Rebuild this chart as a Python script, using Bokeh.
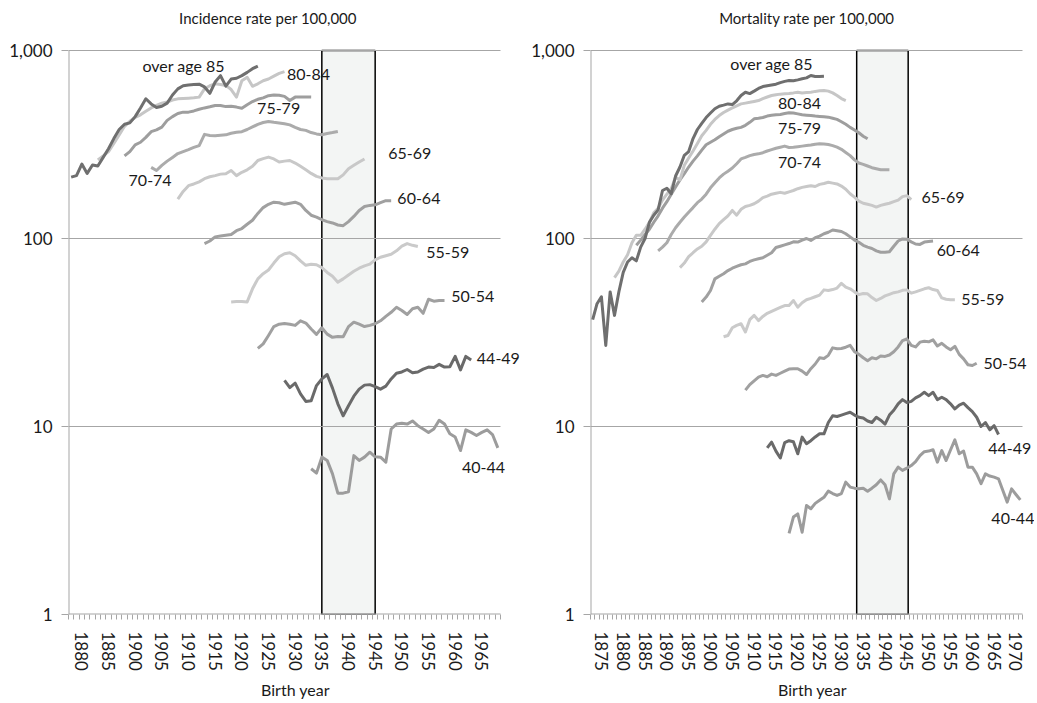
from bokeh.plotting import figure
from bokeh.models import Range1d, FixedTicker, NumeralTickFormatter, BoxAnnotation, Label
from bokeh.layouts import row
from bokeh.embed import file_html
from bokeh.resources import INLINE

FONT = "Lato"
TEXT = "#1a1a1a"
AXIS_GRAY = "#a6a6a6"

AGE_GROUPS = ["over age 85", "80-84", "75-79", "70-74", "65-69",
              "60-64", "55-59", "50-54", "44-49", "40-44"]
COLORS = ["#6f6f6f", "#c6c6c6", "#9e9e9e", "#ababab", "#c8c8c8",
          "#a0a0a0", "#cacaca", "#a0a0a0", "#6a6a6a", "#9c9c9c"]

# ---------------- Incidence (left) ----------------
# x positions on the category axis (first category = 1878); the axis prints its own labels
inc_tick_pos = [1880, 1885, 1890, 1895, 1900, 1905, 1910, 1915,
                1920, 1925, 1930, 1935, 1940, 1945, 1950, 1955]
inc_tick_labels = ["1880", "1885", "1900", "1905", "1910", "1915", "1920", "1925",
                   "1930", "1935", "1940", "1945", "1950", "1955", "1960", "1965"]
inc_start = [1878, 1883, 1888, 1893, 1898, 1903, 1908, 1913, 1918, 1923]
inc_over85 = [212, 216, 249, 222, 246, 243, 270, 300, 340, 380, 405, 412, 445, 495, 554, 520,
              498, 505, 525, 580, 625, 650, 656, 659, 662, 640, 592, 680, 735, 646, 705, 712,
              735, 765, 800, 826]
inc_80_84 = [262, 275, 290, 320, 355, 395, 420, 440, 455, 475, 495, 510, 525, 532, 545, 553,
             556, 558, 560, 565, 625, 650, 665, 660, 652, 620, 565, 690, 720, 645, 665, 690,
             705, 730, 755, 772]
inc_75_79 = [275, 290, 315, 325, 345, 370, 378, 391, 425, 445, 462, 470, 470, 477, 487, 495,
             502, 510, 510, 503, 505, 500, 493, 515, 535, 550, 560, 575, 580, 578, 570, 542,
             565, 565, 566, 565]
inc_70_74 = [239, 230, 245, 258, 270, 283, 290, 297, 305, 312, 358, 353, 352, 354, 356, 363,
             367, 370, 380, 392, 405, 414, 419, 415, 412, 408, 402, 390, 380, 376, 366, 360,
             356, 362, 366, 371]
inc_65_69 = [162, 178, 191, 195, 200, 208, 213, 216, 220, 221, 230, 216, 225, 232, 242, 260,
             266, 271, 265, 255, 258, 260, 252, 242, 232, 222, 214, 210, 208, 208, 208, 218,
             235, 245, 255, 265]
inc_60_64 = [94, 97, 102, 103, 104, 105, 110, 113, 119, 125, 136, 146, 152, 156, 155, 152,
             154, 156, 152, 141, 133, 130, 126, 123, 121, 118, 117, 123, 131, 141, 148, 150,
             151, 155, 159, 159]
inc_55_59 = [46, 46.2, 46.2, 46, 54, 61, 65, 68, 74, 80, 83, 84, 81, 76, 72, 73, 72.5, 70,
             66, 63, 58.6, 61, 64, 67, 69.5, 71.5, 73, 77, 79.5, 81, 82.5, 86, 91, 94, 92, 90.6]
inc_50_54 = [26, 27.5, 30.5, 34, 35, 35.3, 35, 34.5, 36.5, 35.5, 33, 30.9, 33.5, 31, 29.8,
             30.1, 30, 34, 35.9, 35, 34, 34.5, 35.2, 36.5, 38.5, 40.5, 43.1, 41.4, 39.4, 42.3,
             43.1, 40, 47.5, 46.4, 46.8, 46.8]
inc_44_49 = [17.6, 16.1, 17, 14.9, 13.6, 13.7, 16.5, 17.9, 18.9, 16, 13.2, 11.4, 12.9, 14.5,
             15.8, 16.6, 16.7, 16.3, 15.8, 16.4, 17.9, 19.2, 19.5, 20.1, 19.3, 19.5, 20.2, 20.7,
             20.6, 21.4, 20.7, 20.8, 23.6, 20, 23.6, 22.6]
inc_40_44 = [5.96, 5.65, 6.87, 6.6, 5.6, 4.42, 4.42, 4.5, 7.0, 6.6, 6.87, 7.3, 6.9, 6.87, 6.46,
             9.7, 10.3, 10.4, 10.3, 10.7, 10.1, 9.7, 9.3, 9.7, 10.8, 10.3, 9.15, 8.8, 7.45, 9.6,
             9.3, 8.96, 9.3, 9.6, 9.06, 7.7]
inc_highlight = ["1935", "1945"]

# ---------------- Mortality (right) ----------------
mort_tick_pos = [1875, 1880, 1885, 1890, 1895, 1900, 1905, 1910, 1915, 1920,
                 1925, 1930, 1935, 1940, 1945, 1950, 1955, 1960, 1965, 1970]
mort_tick_labels = [str(v) for v in mort_tick_pos]
mort_start = [1873, 1878, 1883, 1888, 1893, 1898, 1903, 1908, 1913, 1918]
mort_over85 = [37, 45, 49, 27, 52, 39, 52, 66, 75, 79, 76, 90, 100, 122, 133, 142, 180, 185,
               173, 215, 240, 277, 290, 340, 380, 410, 440, 465, 490, 505, 512, 520, 516, 540,
               576, 600, 590, 608, 628, 643, 650, 656, 662, 675, 685, 692, 690, 698, 707, 715,
               736, 727, 728, 730]
mort_80_84 = [62, 67, 75, 82, 95, 104, 104, 112, 122, 137, 145, 160, 172, 184, 212, 205, 245,
              268, 292, 320, 352, 376, 405, 430, 451, 468, 482, 495, 508, 520, 525, 530, 536,
              542, 555, 566, 576, 582, 586, 589, 591, 595, 600, 594, 597, 600, 606, 610, 613,
              608, 595, 576, 555, 542]
mort_75_79 = [92, 98, 105, 112, 122, 132, 145, 157, 172, 188, 205, 221, 240, 258, 275, 295,
              315, 325, 335, 348, 360, 372, 380, 386, 390, 400, 415, 433, 436, 440, 448, 452,
              455, 457, 462, 466, 465, 460, 455, 453, 451, 448, 446, 444, 442, 436, 430, 418,
              405, 390, 378, 365, 350, 339]
mort_70_74 = [86, 90, 95, 105, 114, 122, 130, 138, 146, 155, 162, 172, 186, 198, 210, 220,
              228, 237, 250, 265, 270, 276, 280, 282, 286, 292, 297, 302, 306, 310, 305, 306,
              308, 310, 312, 314, 317, 319, 318, 316, 312, 306, 298, 287, 276, 262, 252, 248,
              243, 238, 235, 232, 232, 232]
mort_65_69 = [70, 74, 80, 84, 88, 91, 96, 104, 112, 120, 126, 132, 141, 133, 143, 148, 150,
              153, 158, 165, 168, 172, 174, 176, 174, 177, 180, 184, 187, 189, 191, 189, 194,
              196, 199, 197, 195, 190, 183, 173, 166, 158, 154, 152, 150, 147, 150, 152, 154,
              157, 160, 167, 169, 161]
mort_60_64 = [46, 48.8, 52.9, 61, 63, 65, 67.5, 69.5, 71, 72.5, 73.3, 75.5, 77, 78, 79, 81.5,
              84, 89.5, 91, 92.5, 94, 96, 95.7, 98, 100, 97.6, 101, 103, 106, 108, 111, 110,
              109, 106, 102, 98, 95.5, 92, 90, 88.5, 86, 84.5, 84.5, 85, 91, 97, 99.5, 99, 96,
              93.5, 93, 95.7, 96.5, 97]
mort_55_59 = [30, 30.5, 33.5, 34.5, 35.2, 31.8, 37, 39, 36.6, 38.5, 40, 41, 42, 43, 44, 44,
              46.8, 43.1, 45.5, 47.2, 48, 49, 50, 53.3, 52.9, 53.5, 54.5, 57.8, 55.1, 54, 52,
              50.3, 51, 50.8, 48.5, 46.8, 48, 49.5, 50.5, 51.5, 52, 53, 53.3, 51.2, 52, 53, 54,
              54.7, 53.5, 52.9, 48.3, 47.5, 47.2, 47.2]
mort_50_54 = [15.6, 16.7, 17.5, 18.3, 18.7, 18.4, 19, 18.7, 19.2, 19.7, 20.2, 20.3, 20.3, 19.7,
              18.9, 20.3, 21.5, 23.2, 23, 23.9, 26.2, 25.9, 26, 26.4, 27, 25, 24.2, 23.2, 22.4,
              23.2, 22.9, 23.7, 23.6, 24, 25, 26.5, 28.6, 29.2, 27, 26.5, 28.1, 28.4, 28.2, 28.9,
              26.8, 27.7, 26.5, 25.6, 26.7, 24.2, 22.9, 21.3, 21.1, 21.7]
mort_44_49 = [7.7, 8.26, 7.4, 6.8, 8.2, 8.4, 8.3, 7.16, 8.78, 8.1, 8.4, 8.8, 9.14, 9.14, 10.5,
              11.4, 11.3, 11.5, 11.7, 11.9, 11.5, 11.2, 11.1, 10.7, 10.5, 11.2, 10.8, 10.3, 11.5,
              12.2, 13.2, 13.9, 13.4, 13.6, 14.2, 14.6, 15.2, 14.6, 15.2, 13.9, 14.3, 13.9, 13.2,
              12.4, 13, 13.3, 12.6, 12.0, 11.2, 10, 10.5, 9.6, 10.1, 9.07]
mort_40_44 = [2.7, 3.3, 3.43, 2.74, 3.8, 3.65, 3.9, 4.05, 4.2, 4.53, 4.4, 4.3, 4.4, 5.06, 4.76,
              4.7, 4.66, 4.7, 4.53, 4.7, 4.9, 5.2, 4.9, 4.12, 5.6, 6.08, 5.84, 6.0, 6.2, 6.5, 7.0,
              7.35, 7.4, 7.52, 6.46, 7.45, 6.59, 7.5, 8.49, 7.16, 7.4, 6.08, 6.08, 5.6, 4.96, 5.6,
              5.45, 5.38, 5.27, 4.57, 3.96, 4.66, 4.35, 4.07]
mort_highlight = [1933.5, 1945.3]

Y_TICKS = [1, 10, 100, 1000]
Y_MIN, Y_MAX = 1, 1000

# label anchor positions (styling: where each text sits, in axis units)
inc_title_pos = (1914.9, 1497)
mort_title_pos = (1922.1, 1497)
inc_label_pos = [(1899.1, 832), (1922.5, 745), (1916.9, 491), (1892.8, 203), (1941.5, 284),
                 (1943.2, 164), (1948.6, 84.6), (1953.3, 49.3), (1958.1, 23.0), (1955.3, 6.05)]
mort_label_pos = [(1914.0, 853), (1920.4, 522), (1920.4, 385), (1920.4, 253), (1953.3, 165),
                  (1956.8, 86.3), (1962.4, 47.4), (1967.5, 21.7), (1968.6, 7.64), (1969.3, 3.24)]

PLOT_W = 432   # px width of the category area
PLOT_H = 564   # px height from 1 to 1,000
TOP_PX = 50    # px of head room above 1,000 (title lives there)


def make_panel(title, title_pos, starts, series, first_cat, n_cat, tick_pos, tick_labels,
               box, label_pos, min_left, extra_px):
    x_lo = first_cat - 0.5
    x_end = first_cat + n_cat - 0.5
    cat_w = PLOT_W / n_cat
    frame_w = PLOT_W + extra_px
    x_hi = x_lo + frame_w / cat_w
    y_hi = Y_MAX * 10 ** (TOP_PX / (PLOT_H / 3.0))
    p = figure(output_backend="svg", toolbar_location=None, y_axis_type="log",
               x_range=Range1d(x_lo, x_hi), y_range=Range1d(Y_MIN, y_hi),
               frame_width=frame_w, frame_height=PLOT_H + TOP_PX,
               min_border_left=min_left, min_border_right=0,
               min_border_top=0, min_border_bottom=86)
    p.outline_line_color = None

    # y axis
    p.yaxis.ticker = FixedTicker(ticks=Y_TICKS)
    p.yaxis.formatter = NumeralTickFormatter(format="0,0")
    p.yaxis.axis_line_color = None
    p.yaxis.major_tick_line_color = AXIS_GRAY
    p.yaxis.major_tick_out = 7
    p.yaxis.major_tick_in = 0
    p.yaxis.minor_tick_out = 0
    p.yaxis.minor_tick_in = 0
    p.yaxis.major_label_standoff = 9
    p.yaxis.major_label_text_font = FONT
    p.yaxis.major_label_text_font_size = "17px"
    p.yaxis.major_label_text_color = TEXT
    p.xgrid.visible = False
    p.ygrid.visible = False

    # x axis
    boundaries = [x_lo + i for i in range(n_cat + 1)]
    p.xaxis.ticker = FixedTicker(ticks=tick_pos, minor_ticks=boundaries)
    p.xaxis.major_label_overrides = {t: lab for t, lab in zip(tick_pos, tick_labels)}
    p.xaxis.major_label_orientation = "vertical"
    p.xaxis.axis_line_color = None
    p.xaxis.major_tick_out = 0
    p.xaxis.major_tick_in = 0
    p.xaxis.minor_tick_out = 5
    p.xaxis.minor_tick_in = 0
    p.xaxis.minor_tick_line_color = AXIS_GRAY
    p.xaxis.major_label_standoff = 12
    p.xaxis.major_label_text_font = FONT
    p.xaxis.major_label_text_font_size = "17px"
    p.xaxis.major_label_text_color = TEXT
    p.xaxis.axis_label = "Birth year"
    p.xaxis.axis_label_standoff = 6
    p.xaxis.axis_label_text_font = FONT
    p.xaxis.axis_label_text_font_size = "16px"
    p.xaxis.axis_label_text_font_style = "normal"
    p.xaxis.axis_label_text_color = TEXT

    # highlighted birth-year window
    p.add_layout(BoxAnnotation(left=box[0], right=box[1], bottom=Y_MIN, top=Y_MAX,
                               fill_color="#f3f5f4", fill_alpha=1.0,
                               line_color="#000000", line_alpha=1.0, line_width=1.5,
                               level="image"))

    # gridlines and axis lines limited to the category area
    p.segment(x0=[x_lo] * 3, x1=[x_end] * 3, y0=[10, 100, 1000], y1=[10, 100, 1000],
              line_color=AXIS_GRAY, line_width=1)
    p.segment(x0=[x_lo, x_lo], x1=[x_end, x_lo], y0=[Y_MIN, Y_MIN], y1=[Y_MIN, Y_MAX],
              line_color=AXIS_GRAY, line_width=2)

    # lines (youngest first so the oldest group sits on top)
    for i in reversed(range(len(series))):
        vals = series[i]
        xs = list(range(starts[i], starts[i] + len(vals)))
        p.line(xs, vals, line_color=COLORS[i], line_width=3, line_join="round")

    for name, (lx, ly) in zip(AGE_GROUPS, label_pos):
        p.add_layout(Label(x=lx, y=ly, text=name, text_align="center", text_baseline="middle",
                           text_font=FONT, text_font_size="16px", text_color=TEXT))
    p.add_layout(Label(x=title_pos[0], y=title_pos[1], text=title, text_align="center",
                       text_baseline="middle", text_font=FONT, text_font_size="15px",
                       text_color=TEXT))
    return p


inc_series = [inc_over85, inc_80_84, inc_75_79, inc_70_74, inc_65_69,
              inc_60_64, inc_55_59, inc_50_54, inc_44_49, inc_40_44]
mort_series = [mort_over85, mort_80_84, mort_75_79, mort_70_74, mort_65_69,
               mort_60_64, mort_55_59, mort_50_54, mort_44_49, mort_40_44]

label_to_pos = dict(zip(inc_tick_labels, inc_tick_pos))
inc_box = [label_to_pos[inc_highlight[0]], label_to_pos[inc_highlight[1]]]

left = make_panel("Incidence rate per 100,000", inc_title_pos, inc_start, inc_series, 1878, 81,
                  inc_tick_pos, inc_tick_labels, inc_box, inc_label_pos, 68, 22)
right = make_panel("Mortality rate per 100,000", mort_title_pos, mort_start, mort_series, 1873,
                   99, mort_tick_pos, mort_tick_labels, mort_highlight, mort_label_pos, 68, 12)

layout = row(left, right)
open("out.html", "w").write(file_html(layout, INLINE))
